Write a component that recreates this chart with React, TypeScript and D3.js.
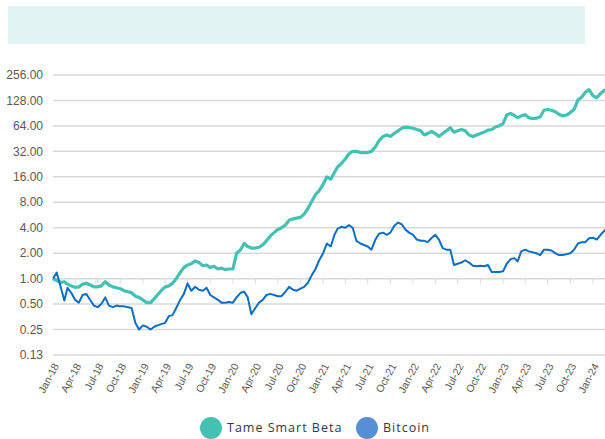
import React from "react";
import * as d3 from "d3";

// half-monthly readings, index 0 = 2018-01-01, step = half a month
const startDate = "2018-01-01";
const lastDate = "2024-02-20";

const tameSmartBeta = [
  1.0, 0.95, 0.9, 0.92, 0.86, 0.82, 0.79, 0.8, 0.86, 0.88, 0.84, 0.8,
  0.8, 0.82, 0.92, 0.84, 0.8, 0.78, 0.76, 0.72, 0.7, 0.68, 0.62, 0.6,
  0.56, 0.52, 0.52, 0.58, 0.64, 0.72, 0.8, 0.82, 0.88, 1.0, 1.18, 1.35,
  1.45, 1.5, 1.62, 1.55, 1.42, 1.45, 1.35, 1.4, 1.3, 1.33, 1.28, 1.3,
  1.3, 2.0, 2.2, 2.6, 2.4, 2.3, 2.3, 2.35, 2.5, 2.8, 3.2, 3.5,
  3.8, 4.0, 4.3, 4.9, 5.1, 5.2, 5.3, 5.8, 6.8, 8.2, 9.8, 11,
  13, 16, 15, 18, 21, 23, 26, 30, 32, 32, 31, 31,
  31, 32, 36, 43, 48, 50, 48, 52, 56, 60, 62, 61,
  60, 58, 56, 50, 52, 55, 52, 48, 52, 56, 61, 54,
  56, 58, 56, 50, 48, 50, 52, 54, 57, 58, 62, 64,
  68, 86, 90, 85, 80, 84, 87, 80, 78, 79, 82, 98,
  100, 98, 94, 88, 84, 86, 92, 100, 130, 140, 160, 172,
  145, 138, 155, 172,
];

const bitcoin = [
  1.0, 1.18, 0.8, 0.55, 0.78, 0.68, 0.56, 0.52, 0.64, 0.66, 0.56, 0.48,
  0.46, 0.5, 0.6, 0.48, 0.46, 0.48, 0.47, 0.47, 0.46, 0.45, 0.3, 0.25,
  0.28, 0.27, 0.25, 0.27, 0.28, 0.29, 0.3, 0.36, 0.37, 0.45, 0.56, 0.66,
  0.88, 0.72, 0.8, 0.74, 0.72, 0.78, 0.64, 0.6, 0.56, 0.52, 0.52, 0.53,
  0.52, 0.6, 0.68, 0.7, 0.6, 0.38, 0.45, 0.52, 0.56, 0.64, 0.66, 0.64,
  0.62, 0.62, 0.7, 0.8, 0.74, 0.72, 0.76, 0.8, 0.9, 1.1, 1.3, 1.65,
  2.0, 2.6, 2.4, 3.3, 3.9, 4.1, 4.0, 4.3, 4.0, 2.8, 2.6, 2.5,
  2.4, 2.2, 2.9, 3.4, 3.5, 3.3, 3.5, 4.2, 4.6, 4.4, 3.8, 3.5,
  3.3, 2.9, 2.8, 2.8, 2.7, 3.0, 3.3, 2.9, 2.3, 2.2, 2.2, 1.45,
  1.5, 1.55, 1.65, 1.55, 1.42, 1.4, 1.42, 1.4, 1.45, 1.2, 1.2, 1.2,
  1.22, 1.5, 1.7, 1.75, 1.6, 2.1, 2.2, 2.1, 2.05, 2.0, 1.9, 2.2,
  2.2, 2.15, 2.0, 1.9, 1.9, 1.95, 2.0, 2.2, 2.6, 2.7, 2.7, 3.0,
  3.05, 2.9, 3.3, 3.8,
];

const yTicks = [0.125, 0.25, 0.5, 1, 2, 4, 8, 16, 32, 64, 128, 256];
const yTickLabels = ["0.13", "0.25", "0.50", "1.00", "2.00", "4.00", "8.00", "16.00", "32.00", "64.00", "128.00", "256.00"];

const seriesNames = ["Tame Smart Beta", "Bitcoin"];
const lineColors = ["#43c2b4", "#0a6ec2"];
const legendColors = ["#43c2b4", "#568fd6"];

function dateAt(i: number) {
  const d0 = new Date(startDate + "T00:00:00");
  const month = Math.floor(i / 2);
  const day = i % 2 === 0 ? 1 : 16;
  return new Date(d0.getFullYear(), d0.getMonth() + month, day);
}

export default function App() {
  const width = 605;
  const height = 439;
  const left = 53;
  const right = 605;

  const x = d3
    .scaleTime()
    .domain([new Date(2018, 0, 1), new Date(2024, 0, 1)])
    .range([left, 593]);
  const y = d3.scaleLog().base(2).domain([0.125, 256]).range([355, 75]);

  const n = tameSmartBeta.length;
  const dates = d3.range(n).map((i) => (i === n - 1 ? new Date(lastDate + "T00:00:00") : dateAt(i)));

  const line = d3
    .line<number>()
    .x((_, i) => x(dates[i]))
    .y((v) => y(v));

  const xTicks = d3.timeMonth.every(3)!.range(new Date(2018, 0, 1), new Date(2024, 0, 2));
  const fmt = d3.timeFormat("%b-%y");
  const axisY = y(1);

  return (
    <svg
      width={width}
      height={height}
      style={{ position: "absolute", left: 0, top: 0, background: "#fff" }}
      fontFamily="'Liberation Sans', Arial, sans-serif"
    >
      <rect x={8} y={6} width={577} height={38} fill="#e1f3f3" />

      {yTicks.map((t, i) => (
        <g key={t}>
          <line x1={left} x2={right} y1={y(t)} y2={y(t)} stroke="#d9d9d9" strokeWidth={1.5} />
          <text x={43} y={y(t)} dy="0.35em" textAnchor="end" fontSize={12} fill="#595959">
            {yTickLabels[i]}
          </text>
        </g>
      ))}

      {xTicks.map((d) => (
        <g key={+d}>
          <line x1={x(d)} x2={x(d)} y1={axisY} y2={axisY + 5} stroke="#d9d9d9" strokeWidth={1} />
          <text
            transform={`translate(${x(d) + 3},${364}) rotate(-62)`}
            textAnchor="end"
            dy="0.35em"
            fontSize={10.5}
            fill="#595959"
          >
            {fmt(d)}
          </text>
        </g>
      ))}

      <path d={line(tameSmartBeta) ?? ""} fill="none" stroke={lineColors[0]} strokeWidth={3.2} strokeLinejoin="round" />
      <path d={line(bitcoin) ?? ""} fill="none" stroke={lineColors[1]} strokeWidth={2} strokeLinejoin="round" />

      {seriesNames.map((name, i) => {
        const cx = i === 0 ? 211 : 367;
        return (
          <g key={name}>
            <circle cx={cx} cy={428} r={11} fill={legendColors[i]} />
            <text
              x={cx + 16}
              y={428}
              dy="0.35em"
              fontSize={12.5}
              letterSpacing={1}
              fill="#2d3a4f"
              fontFamily="'Open Sans', sans-serif"
            >
              {name}
            </text>
          </g>
        );
      })}
    </svg>
  );
}
